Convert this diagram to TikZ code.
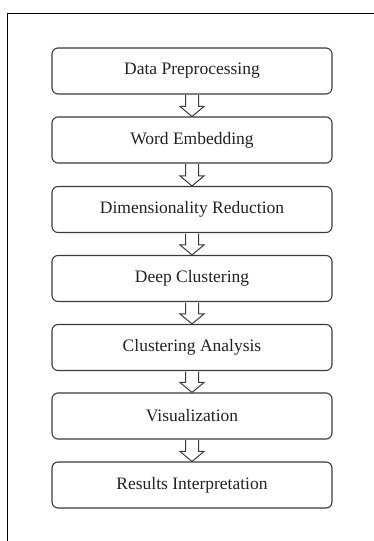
\documentclass[tikz,border=0pt]{standalone}
\usepackage{fontspec}
\setmainfont{Liberation Serif}
\usetikzlibrary{calc}
\definecolor{edgegray}{HTML}{3A3A3A}
\definecolor{txtgray}{HTML}{222222}
\tikzset{
  stagebox/.style={draw=edgegray, line width=1.1pt, rounded corners=6pt,
    minimum width=280pt, minimum height=46pt, inner sep=0pt,
    font=\fontsize{17.5}{20}\selectfont, text=txtgray},
  flowarrow/.style={draw=edgegray, line width=1pt, fill=white, line join=miter},
  frameline/.style={draw=black, line width=1.4pt}
}
\begin{document}
\begin{tikzpicture}[x=1pt,y=-1pt]
\useasboundingbox (0,0) rectangle (374,541);
\draw[frameline] (7.3,541) -- (7.3,13.3) -- (374,13.3);
\node[stagebox] (s1) at (192,71) {Data Preprocessing};
\node[stagebox] (s2) at (192,140) {Word Embedding};
\node[stagebox] (s3) at (192,209.5) {Dimensionality Reduction};
\node[stagebox] (s4) at (192,278.5) {Deep Clustering};
\node[stagebox] (s5) at (192,347.5) {Clustering Analysis};
\node[stagebox] (s6) at (192,416) {Visualization};
\node[stagebox] (s7) at (192,485) {Results Interpretation};
\foreach \a/\b in {s1/s2,s2/s3,s3/s4,s4/s5,s5/s6,s6/s7}{
  \draw[flowarrow]
    ($(\a.south)+(-6.5,0.6)$) -- ($(\b.north)+(-6.5,-10)$) -- ($(\b.north)+(-12,-10)$)
    -- (\b.north) -- ($(\b.north)+(12,-10)$) -- ($(\b.north)+(6.5,-10)$)
    -- ($(\a.south)+(6.5,0.6)$);
}
\end{tikzpicture}
\end{document}
